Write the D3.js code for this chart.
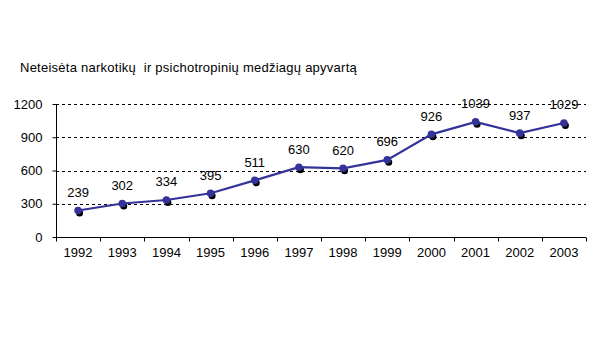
<!DOCTYPE html>
<html>
<head>
<meta charset="utf-8">
<script src="https://cdn.jsdelivr.net/npm/d3@7"></script>
<style>
  html, body { margin: 0; padding: 0; background: #fff; }
  svg { display: block; font-family: "Liberation Sans", Arial, sans-serif; }
</style>
</head>
<body>
<svg id="chart" width="603" height="337"></svg>
<script>
const years = ["1992","1993","1994","1995","1996","1997","1998","1999","2000","2001","2002","2003"];
const values = [239, 302, 334, 395, 511, 630, 620, 696, 926, 1039, 937, 1029];
const yTicks = [0, 300, 600, 900, 1200];
const title = "Neteisėta narkotikų  ir psichotropinių medžiagų apyvartą";

const svg = d3.select("#chart");
const plotLeft = 56, plotRight = 586, plotTop = 104, plotBottom = 237;
const fs = 13;

const x = d3.scaleBand().domain(years).range([plotLeft, plotRight]).padding(0);
const y = d3.scaleLinear().domain([0, 1200]).range([plotBottom, plotTop]);
const cx = d => x(d) + x.bandwidth() / 2;

const data = years.map((yr, i) => ({ yr, v: values[i] }));

svg.append("text")
  .attr("x", 20).attr("y", 72)
  .attr("font-size", fs).attr("fill", "#000")
  .attr("letter-spacing", 0.25)
  .style("white-space", "pre")
  .text(title);

// dashed gridlines
svg.append("g")
  .selectAll("line")
  .data(yTicks.filter(t => t > 0))
  .join("line")
  .attr("x1", plotLeft).attr("x2", plotRight)
  .attr("y1", d => Math.round(y(d)) + 0.5).attr("y2", d => Math.round(y(d)) + 0.5)
  .attr("stroke", "#000").attr("stroke-width", 1)
  .attr("stroke-dasharray", "3,3");

// y axis
const yAxis = d3.axisLeft(y).tickValues(yTicks).tickFormat(d3.format("d")).tickSize(4).tickPadding(10);
const gy = svg.append("g").attr("transform", `translate(${plotLeft + 0.5},0)`).call(yAxis);
gy.select(".domain").attr("d", `M0,${plotBottom}V${plotTop}`).attr("stroke", "#000");
gy.selectAll(".tick line").attr("stroke", "#000");
gy.selectAll("text").attr("font-size", fs).attr("fill", "#000").attr("font-family", "Liberation Sans, Arial, sans-serif");

// x axis with ticks between categories
const gx = svg.append("g").attr("transform", `translate(0,${Math.round(plotBottom) + 0.5})`);
gx.append("line").attr("x1", plotLeft).attr("x2", plotRight).attr("stroke", "#000");
gx.selectAll("line.tk")
  .data(years.concat(["end"]))
  .join("line")
  .attr("class", "tk")
  .attr("x1", (d, i) => Math.round(plotLeft + i * x.bandwidth()) + 0.5)
  .attr("x2", (d, i) => Math.round(plotLeft + i * x.bandwidth()) + 0.5)
  .attr("y1", 0).attr("y2", 4)
  .attr("stroke", "#000");
gx.selectAll("text")
  .data(years)
  .join("text")
  .attr("x", d => cx(d))
  .attr("y", 19)
  .attr("text-anchor", "middle")
  .attr("font-size", fs)
  .text(d => d);

// marker shadows
svg.append("g")
  .selectAll("circle")
  .data(data)
  .join("circle")
  .attr("cx", d => cx(d.yr) + 1.5)
  .attr("cy", d => y(d.v) + 2.5)
  .attr("r", 3.5)
  .attr("fill", "#000");

// series line
svg.append("path")
  .datum(data)
  .attr("fill", "none")
  .attr("stroke", "#333399")
  .attr("stroke-width", 2.2)
  .attr("d", d3.line().x(d => cx(d.yr)).y(d => y(d.v)));

// markers
svg.append("g")
  .selectAll("circle")
  .data(data)
  .join("circle")
  .attr("cx", d => cx(d.yr))
  .attr("cy", d => y(d.v))
  .attr("r", 3.8)
  .attr("fill", "#333399");

// value labels
svg.append("g")
  .selectAll("text")
  .data(data)
  .join("text")
  .attr("x", d => cx(d.yr))
  .attr("y", d => y(d.v) - 13.5)
  .attr("text-anchor", "middle")
  .attr("font-size", fs)
  .attr("fill", "#000")
  .text(d => d.v);
</script>
</body>
</html>
